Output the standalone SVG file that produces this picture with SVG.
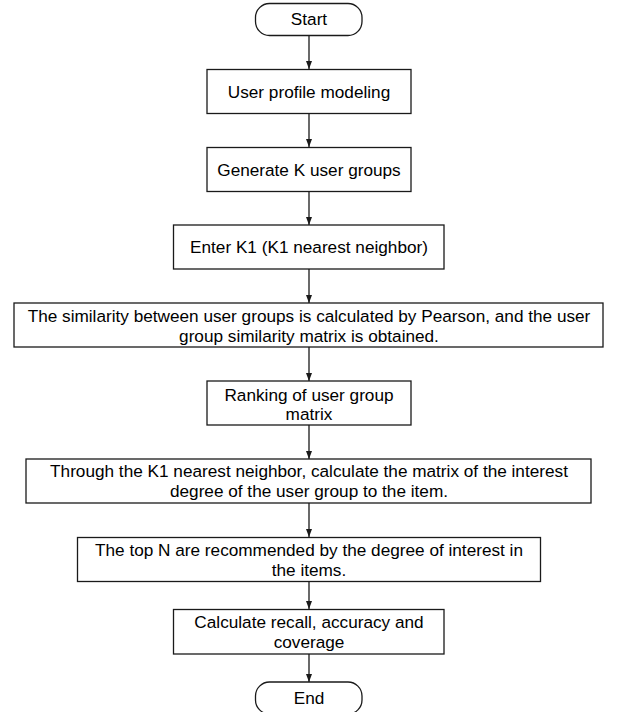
<svg xmlns="http://www.w3.org/2000/svg" width="618" height="712" viewBox="0 0 618 712">
<defs>
<style>
.box{fill:#fff;stroke:#1a1a1a;stroke-width:1.3}
.t{font-family:"Liberation Sans",Arial,sans-serif;font-size:17.2px;fill:#000;text-anchor:middle}
.c{stroke:#1a1a1a;stroke-width:1.3;fill:none;marker-end:url(#ah)}
</style>
<marker id="ah" viewBox="0 0 8 6" refX="8" refY="3" markerWidth="8" markerHeight="6" markerUnits="userSpaceOnUse" orient="auto">
<path d="M0,0 L8,3 L0,6 z" fill="#1a1a1a"/>
</marker>
</defs>
<rect width="618" height="712" fill="#fff"/>
<g id="connectors">
<line class="c" x1="309" y1="35" x2="309" y2="69"/>
<line class="c" x1="309" y1="114" x2="309" y2="147"/>
<line class="c" x1="309" y1="192" x2="309" y2="225"/>
<line class="c" x1="309" y1="269" x2="309" y2="303"/>
<line class="c" x1="309" y1="347" x2="309" y2="381"/>
<line class="c" x1="309" y1="425" x2="309" y2="459"/>
<line class="c" x1="309" y1="503" x2="309" y2="537"/>
<line class="c" x1="309" y1="582" x2="309" y2="609"/>
<line class="c" x1="309" y1="654" x2="309" y2="682"/>
</g>
<g id="start">
<rect class="box" x="255.5" y="3.5" width="106.5" height="32" rx="14"/>
<text class="t" x="309" y="25">Start</text>
</g>
<g id="n1">
<rect class="box" x="207" y="69.5" width="204" height="44"/>
<text class="t" x="309" y="97.5">User profile modeling</text>
</g>
<g id="n2">
<rect class="box" x="207" y="147.5" width="204" height="44"/>
<text class="t" x="309" y="175.5">Generate K user groups</text>
</g>
<g id="n3">
<rect class="box" x="173.5" y="225" width="270.5" height="44"/>
<text class="t" x="309" y="253">Enter K1 (K1 nearest neighbor)</text>
</g>
<g id="n4">
<rect class="box" x="14" y="303" width="589" height="44"/>
<text class="t" x="309" y="321.7">The similarity between user groups is calculated by Pearson, and the user</text>
<text class="t" x="309" y="341.5">group similarity matrix is obtained.</text>
</g>
<g id="n5">
<rect class="box" x="207" y="381" width="204" height="44"/>
<text class="t" x="309" y="400.5">Ranking of user group</text>
<text class="t" x="309" y="419.5">matrix</text>
</g>
<g id="n6">
<rect class="box" x="26" y="459" width="565" height="44"/>
<text class="t" x="309" y="477.3">Through the K1 nearest neighbor, calculate the matrix of the interest</text>
<text class="t" x="309" y="497">degree of the user group to the item.</text>
</g>
<g id="n7">
<rect class="box" x="77.5" y="537.5" width="463" height="44"/>
<text class="t" x="309" y="556">The top N are recommended by the degree of interest in</text>
<text class="t" x="309" y="575.5">the items.</text>
</g>
<g id="n8">
<rect class="box" x="173.5" y="609.5" width="270.5" height="44.5"/>
<text class="t" x="309" y="627.7">Calculate recall, accuracy and</text>
<text class="t" x="309" y="648">coverage</text>
</g>
<g id="end">
<rect class="box" x="255.5" y="682" width="106.5" height="32" rx="14"/>
<text class="t" x="309" y="704">End</text>
</g>
</svg>
